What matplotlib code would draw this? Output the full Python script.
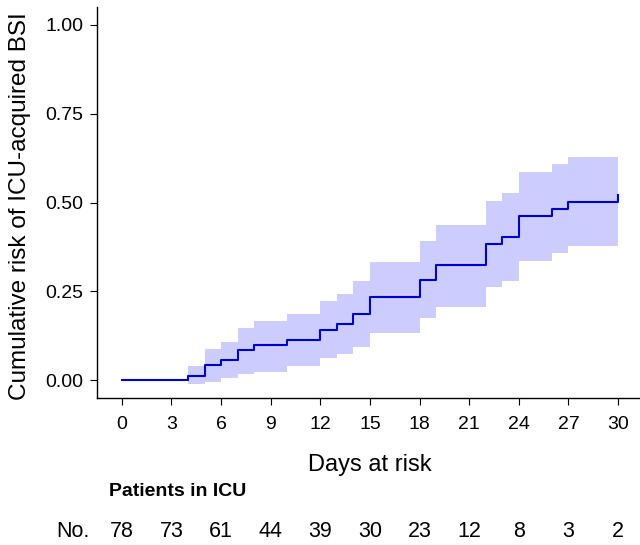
import matplotlib
matplotlib.use('Agg')
import matplotlib.pyplot as plt
from matplotlib.transforms import blended_transform_factory

plt.rcParams['font.family'] = ['Liberation Sans', 'DejaVu Sans']

# step times (days) and cumulative risk with 95% CI
days = [0, 4, 5, 6, 7, 8, 10, 12, 13, 14, 15, 18, 19, 22, 23, 24, 26, 27, 30]
risk = [0, 0.013, 0.043, 0.057, 0.085, 0.099, 0.113, 0.142, 0.157, 0.186,
        0.233, 0.283, 0.323, 0.383, 0.403, 0.462, 0.483, 0.502, 0.520]
upper = [0, 0.040, 0.088, 0.108, 0.147, 0.168, 0.187, 0.224, 0.242, 0.279,
         0.333, 0.391, 0.438, 0.504, 0.526, 0.587, 0.607, 0.628, 0.628]
lower = [0, -0.011, -0.004, 0.005, 0.017, 0.023, 0.040, 0.062, 0.073, 0.094,
         0.133, 0.174, 0.207, 0.262, 0.279, 0.335, 0.357, 0.377, 0.377]

tick_days = [0, 3, 6, 9, 12, 15, 18, 21, 24, 27, 30]
at_risk = [78, 73, 61, 44, 39, 30, 23, 12, 8, 3, 2]

fig = plt.figure(figsize=(6.4, 5.45), dpi=100)
ax = fig.add_axes([0.1516, 0.2697, 0.8484, 0.7174])

ax.fill_between(days, lower, upper, step='post', color='#ccccff', linewidth=0)
ax.step(days, risk, where='post', color='#0000cd', linewidth=1.5)

ax.set_xlim(-1.5, 31.33)
ax.set_ylim(-0.05, 1.05)
ax.set_xticks(tick_days)
ax.set_yticks([0, 0.25, 0.5, 0.75, 1.0])
ax.set_yticklabels(['0.00', '0.25', '0.50', '0.75', '1.00'])
ax.tick_params(labelsize=14, length=5, width=0.8, color='black', labelcolor='black', pad=5)
ax.tick_params(axis='x', pad=8)
for s in ['top', 'right']:
    ax.spines[s].set_visible(False)
for s in ['left', 'bottom']:
    ax.spines[s].set_linewidth(1.0)

ax.set_ylabel('Cumulative risk of ICU-acquired BSI', fontsize=17.5)
ax.yaxis.set_label_coords(-0.122, 0.49)
fig.text(0.578, 0.146, 'Days at risk', fontsize=17, ha='center', va='center')

# table of patients at risk
fig.text(0.170, 0.098, 'Patients in ICU', fontsize=14, fontweight='bold', ha='left', va='center')
trans = blended_transform_factory(ax.transData, fig.transFigure)
fig.text(0.14, 0.025, 'No.', fontsize=15.5, ha='right', va='center')
for d, n in zip(tick_days, at_risk):
    ax.text(d, 0.025, str(n), transform=trans, fontsize=15.5, ha='center', va='center', clip_on=False)

fig.savefig('out.png', dpi=100)
